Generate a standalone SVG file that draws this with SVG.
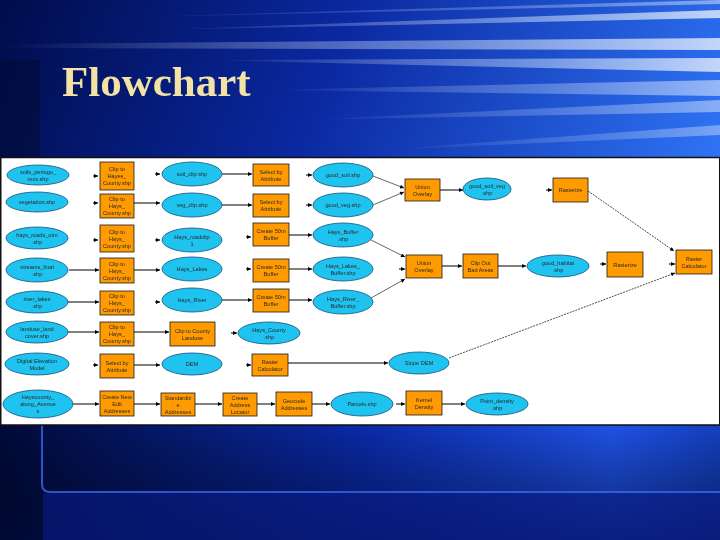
<svg xmlns="http://www.w3.org/2000/svg" width="720" height="540" viewBox="0 0 720 540">
<defs>
<linearGradient id="gTop" x1="0" y1="0" x2="1" y2="0.3">
<stop offset="0" stop-color="#000c4a"/>
<stop offset="0.45" stop-color="#0a28a0"/>
<stop offset="1" stop-color="#2f74f5"/>
</linearGradient>
<linearGradient id="gBot" x1="0" y1="0" x2="1" y2="0">
<stop offset="0" stop-color="#000a3a"/>
<stop offset="0.5" stop-color="#0a2aa8"/>
<stop offset="0.85" stop-color="#1f52e6"/>
<stop offset="1" stop-color="#1440c0"/>
</linearGradient>
<linearGradient id="gBot2" x1="0" y1="0" x2="0" y2="1">
<stop offset="0" stop-color="#000" stop-opacity="0"/>
<stop offset="1" stop-color="#000830" stop-opacity="0.6"/>
</linearGradient>
<linearGradient id="streak" x1="0" y1="0" x2="1" y2="0">
<stop offset="0" stop-color="#ffffff" stop-opacity="0"/>
<stop offset="0.6" stop-color="#cfe4ff" stop-opacity="0.55"/>
<stop offset="1" stop-color="#ffffff" stop-opacity="0.9"/>
</linearGradient>
<marker id="ah" viewBox="0 0 10 10" refX="10" refY="5" markerWidth="5" markerHeight="4" markerUnits="userSpaceOnUse" orient="auto">
<path d="M0,0 L10,5 L0,10 z" fill="#000"/>
</marker>
<style>
.e{fill:#1ec3ef;stroke:#1b4f7a;stroke-width:0.8}
.r{fill:#ff9a00;stroke:#1a1a1a;stroke-width:0.8}
.t{font-family:"Liberation Sans",Arial,sans-serif;font-size:5.6px;fill:#2a2a2a;text-anchor:middle}
.c{stroke:#000;stroke-width:1;fill:none;marker-end:url(#ah)}
.s{stroke:#000;stroke-width:0.6;fill:none;marker-end:url(#ah)}
.d{stroke:#000;stroke-width:0.7;fill:none;stroke-dasharray:2 1;marker-end:url(#ah)}
</style>
</defs>

<!-- background -->
<rect x="0" y="0" width="720" height="540" fill="url(#gTop)"/>
<rect x="0" y="425" width="720" height="115" fill="url(#gBot)"/>
<rect x="0" y="425" width="720" height="115" fill="url(#gBot2)"/>
<g opacity="0.8">
<polygon points="0,44 720,38 720,50 0,48" fill="url(#streak)"/>
<polygon points="150,30 720,10 720,18" fill="url(#streak)"/>
<polygon points="200,60 720,58 720,72" fill="url(#streak)"/>
<polygon points="260,90 720,80 720,96" fill="url(#streak)" opacity="0.7"/>
<polygon points="300,120 720,100 720,112" fill="url(#streak)" opacity="0.6"/>
<polygon points="380,150 720,125 720,135" fill="url(#streak)" opacity="0.5"/>
<polygon points="100,18 720,0 720,4" fill="url(#streak)" opacity="0.6"/>
</g>
<rect x="0" y="60" width="40" height="97" fill="#000a30" opacity="0.5"/>
<path d="M42,425 L42,484 Q42,492 50,492 L720,492" fill="none" stroke="#3a66e8" stroke-width="2" opacity="0.8"/>
<rect x="43" y="493" width="677" height="47" fill="#0a1c88" opacity="0.6"/>

<text x="62" y="96" font-family="'Liberation Serif','Times New Roman',serif" font-weight="bold" font-size="43" fill="#f2e3a4">Flowchart</text>

<!-- white panel -->
<rect x="0.75" y="157.5" width="719" height="267.5" fill="#ffffff" stroke="#111" stroke-width="1.5"/>

<!-- connectors -->
<g id="connectors">
<line class="c" x1="93" y1="176" x2="98" y2="176"/>
<line class="c" x1="93" y1="203" x2="98" y2="203"/>
<line class="c" x1="93" y1="240" x2="98" y2="240"/>
<line class="c" x1="93" y1="365" x2="98" y2="365"/>
<line class="c" x1="155" y1="174" x2="160" y2="174"/>
<line class="c" x1="155" y1="240" x2="160" y2="240"/>
<line class="c" x1="155" y1="302" x2="160" y2="302"/>
<line class="c" x1="246" y1="237" x2="251" y2="237"/>
<line class="c" x1="246" y1="269" x2="251" y2="269"/>
<line class="c" x1="246" y1="365" x2="251" y2="365"/>
<line class="c" x1="306" y1="175" x2="312" y2="175"/>
<line class="c" x1="306" y1="205" x2="312" y2="205"/>
<line class="c" x1="399" y1="269" x2="405" y2="269"/>
<line class="c" x1="546" y1="190" x2="552" y2="190"/>
<line class="c" x1="600" y1="264" x2="606" y2="264"/>
<line class="c" x1="669" y1="264" x2="675" y2="264"/>
<line class="c" x1="231" y1="333" x2="237" y2="333"/>
<line class="c" x1="396" y1="404" x2="405" y2="404"/>

<line class="c" x1="134" y1="203" x2="160" y2="203"/>
<line class="c" x1="222" y1="174" x2="252" y2="174"/>
<line class="c" x1="222" y1="205" x2="252" y2="205"/>
<line class="c" x1="289" y1="235" x2="312" y2="235"/>
<line class="c" x1="69" y1="270" x2="99" y2="270"/>
<line class="c" x1="134" y1="270" x2="160" y2="270"/>
<line class="c" x1="289" y1="269" x2="312" y2="269"/>
<line class="c" x1="68" y1="302" x2="99" y2="302"/>
<line class="c" x1="222" y1="300" x2="252" y2="300"/>
<line class="c" x1="289" y1="300" x2="312" y2="300"/>
<line class="c" x1="68" y1="332" x2="99" y2="332"/>
<line class="c" x1="134" y1="332" x2="169" y2="332"/>
<line class="c" x1="134" y1="365" x2="160" y2="365"/>
<line class="c" x1="288" y1="363" x2="388" y2="363"/>
<line class="c" x1="73" y1="404" x2="99" y2="404"/>
<line class="c" x1="134" y1="404" x2="160" y2="404"/>
<line class="c" x1="195" y1="404" x2="222" y2="404"/>
<line class="c" x1="257" y1="404" x2="275" y2="404"/>
<line class="c" x1="312" y1="404" x2="330" y2="404"/>
<line class="c" x1="442" y1="404" x2="465" y2="404"/>
<line class="c" x1="440" y1="190" x2="463" y2="190"/>
<line class="c" x1="442" y1="266" x2="462" y2="266"/>
<line class="c" x1="498" y1="266" x2="526" y2="266"/>

<line class="s" x1="373" y1="176" x2="404" y2="188"/>
<line class="s" x1="373" y1="205" x2="404" y2="192"/>
<line class="s" x1="371" y1="240" x2="405" y2="257"/>
<line class="s" x1="371" y1="298" x2="405" y2="279"/>
<line class="d" x1="588" y1="191" x2="674" y2="251"/>
<line class="d" x1="449" y1="358" x2="675" y2="273"/>
</g>

<!-- column 1 -->
<g id="A1"><ellipse class="e" cx="38" cy="175" rx="31" ry="10"/><text class="t"><tspan x="38" y="173.5">soils_pertsgo_</tspan><tspan x="38" y="180.5">nrcs.shp</tspan></text></g>
<g id="A2"><ellipse class="e" cx="37" cy="202" rx="31" ry="10"/><text class="t" x="37" y="204">vegetation.shp</text></g>
<g id="A3"><ellipse class="e" cx="37" cy="238" rx="31" ry="11"/><text class="t"><tspan x="37" y="236.5">hays_roads_utm</tspan><tspan x="37" y="243.5">.shp</tspan></text></g>
<g id="A4"><ellipse class="e" cx="37" cy="270" rx="31" ry="12"/><text class="t"><tspan x="37" y="268.5">streams_final</tspan><tspan x="37" y="275.5">.shp</tspan></text></g>
<g id="A5"><ellipse class="e" cx="37" cy="302" rx="31" ry="11"/><text class="t"><tspan x="37" y="300.5">river_lakes</tspan><tspan x="37" y="307.5">.shp</tspan></text></g>
<g id="A6"><ellipse class="e" cx="37" cy="332" rx="31" ry="11"/><text class="t"><tspan x="37" y="330.5">landuse_land</tspan><tspan x="37" y="337.5">cover.shp</tspan></text></g>
<g id="A7"><ellipse class="e" cx="37" cy="364" rx="32" ry="11"/><text class="t"><tspan x="37" y="362.5">Digital Elevation</tspan><tspan x="37" y="369.5">Model</tspan></text></g>
<g id="A8"><ellipse class="e" cx="38" cy="404" rx="35" ry="14"/><text class="t"><tspan x="38" y="399">Hayscounty_</tspan><tspan x="38" y="406">along_Avenue</tspan><tspan x="38" y="413">s</tspan></text></g>

<!-- column 2 -->
<g id="B1"><rect class="r" x="100" y="162" width="34" height="28"/><text class="t"><tspan x="117" y="171">Clip to</tspan><tspan x="117" y="178">Hayes_</tspan><tspan x="117" y="185">County.shp</tspan></text></g>
<g id="B2"><rect class="r" x="100" y="194" width="34" height="24"/><text class="t"><tspan x="117" y="201">Clip to</tspan><tspan x="117" y="208">Hays_</tspan><tspan x="117" y="215">County.shp</tspan></text></g>
<g id="B3"><rect class="r" x="100" y="225" width="34" height="27"/><text class="t"><tspan x="117" y="233.5">Clip to</tspan><tspan x="117" y="240.5">Hays_</tspan><tspan x="117" y="247.5">County.shp</tspan></text></g>
<g id="B4"><rect class="r" x="100" y="258" width="34" height="25"/><text class="t"><tspan x="117" y="265.5">Clip to</tspan><tspan x="117" y="272.5">Hays_</tspan><tspan x="117" y="279.5">County.shp</tspan></text></g>
<g id="B5"><rect class="r" x="100" y="291" width="34" height="24"/><text class="t"><tspan x="117" y="298">Clip to</tspan><tspan x="117" y="305">Hays_</tspan><tspan x="117" y="312">County.shp</tspan></text></g>
<g id="B6"><rect class="r" x="100" y="322" width="34" height="24"/><text class="t"><tspan x="117" y="329">Clip to</tspan><tspan x="117" y="336">Hays_</tspan><tspan x="117" y="343">County.shp</tspan></text></g>
<g id="B7"><rect class="r" x="100" y="354" width="34" height="24"/><text class="t"><tspan x="117" y="364.5">Select by</tspan><tspan x="117" y="371.5">Attribute</tspan></text></g>
<g id="B8"><rect class="r" x="100" y="391" width="34" height="25"/><text class="t"><tspan x="117" y="398.5">Create New</tspan><tspan x="117" y="405.5">Edit</tspan><tspan x="117" y="412.5">Addresses</tspan></text></g>

<!-- column 3 -->
<g id="C1"><ellipse class="e" cx="192" cy="174" rx="30" ry="12"/><text class="t" x="192" y="176">soil_clip.shp</text></g>
<g id="C2"><ellipse class="e" cx="192" cy="205" rx="30" ry="12"/><text class="t" x="192" y="207">veg_clip.shp</text></g>
<g id="C3"><ellipse class="e" cx="192" cy="240" rx="30" ry="12"/><text class="t"><tspan x="192" y="238.5">Hays_roadclip</tspan><tspan x="192" y="245.5">1</tspan></text></g>
<g id="C4"><ellipse class="e" cx="192" cy="269" rx="30" ry="12"/><text class="t" x="192" y="271">Hays_Lakes</text></g>
<g id="C5"><ellipse class="e" cx="192" cy="300" rx="30" ry="12"/><text class="t" x="192" y="302">Hays_River</text></g>
<g id="C6"><rect class="r" x="170" y="322" width="45" height="24"/><text class="t"><tspan x="192.5" y="332.5">Clip to County</tspan><tspan x="192.5" y="339.5">Landuse</tspan></text></g>
<g id="C7"><ellipse class="e" cx="192" cy="364" rx="30" ry="11"/><text class="t" x="192" y="366">DEM</text></g>
<g id="C8"><rect class="r" x="161" y="393" width="34" height="23"/><text class="t"><tspan x="178" y="399.5">Standardiz</tspan><tspan x="178" y="406.5">e</tspan><tspan x="178" y="413.5">Addresses</tspan></text></g>

<!-- column 4 -->
<g id="D1"><rect class="r" x="253" y="164" width="36" height="22"/><text class="t"><tspan x="271" y="173.5">Select by</tspan><tspan x="271" y="180.5">Attribute</tspan></text></g>
<g id="D2"><rect class="r" x="253" y="194" width="36" height="23"/><text class="t"><tspan x="271" y="204">Select by</tspan><tspan x="271" y="211">Attribute</tspan></text></g>
<g id="D3"><rect class="r" x="253" y="223" width="36" height="23"/><text class="t"><tspan x="271" y="233">Create 50m</tspan><tspan x="271" y="240">Buffer</tspan></text></g>
<g id="D4"><rect class="r" x="253" y="259" width="36" height="23"/><text class="t"><tspan x="271" y="269">Create 50m</tspan><tspan x="271" y="276">Buffer</tspan></text></g>
<g id="D5"><rect class="r" x="253" y="289" width="36" height="23"/><text class="t"><tspan x="271" y="299">Create 50m</tspan><tspan x="271" y="306">Buffer</tspan></text></g>
<g id="E6"><ellipse class="e" cx="269" cy="333" rx="31" ry="11"/><text class="t"><tspan x="269" y="331.5">Hays_County</tspan><tspan x="269" y="338.5">.shp</tspan></text></g>
<g id="D7"><rect class="r" x="252" y="354" width="36" height="22"/><text class="t"><tspan x="270" y="363.5">Raster</tspan><tspan x="270" y="370.5">Calculator</tspan></text></g>
<g id="D8"><rect class="r" x="223" y="393" width="34" height="23"/><text class="t"><tspan x="240" y="399.5">Create</tspan><tspan x="240" y="406.5">Address</tspan><tspan x="240" y="413.5">Locator</tspan></text></g>

<!-- column 5 -->
<g id="E1"><ellipse class="e" cx="343" cy="175" rx="30" ry="12"/><text class="t" x="343" y="177">good_soil.shp</text></g>
<g id="E2"><ellipse class="e" cx="343" cy="205" rx="30" ry="12"/><text class="t" x="343" y="207">good_veg.shp</text></g>
<g id="E3"><ellipse class="e" cx="343" cy="235" rx="30" ry="12"/><text class="t"><tspan x="343" y="233.5">Hays_Buffer</tspan><tspan x="343" y="240.5">.shp</tspan></text></g>
<g id="E4"><ellipse class="e" cx="343" cy="269" rx="30" ry="12"/><text class="t"><tspan x="343" y="267.5">Hays_Lakes_</tspan><tspan x="343" y="274.5">Buffer.shp</tspan></text></g>
<g id="E5"><ellipse class="e" cx="343" cy="302" rx="30" ry="12"/><text class="t"><tspan x="343" y="300.5">Hays_River_</tspan><tspan x="343" y="307.5">Buffer.shp</tspan></text></g>
<g id="E8"><rect class="r" x="276" y="392" width="36" height="24"/><text class="t"><tspan x="294" y="402.5">Geocode</tspan><tspan x="294" y="409.5">Addresses</tspan></text></g>
<g id="F8"><ellipse class="e" cx="362" cy="404" rx="31" ry="12"/><text class="t" x="362" y="406">Parcels.shp</text></g>

<!-- column 6+ -->
<g id="U1"><rect class="r" x="405" y="179" width="35" height="22"/><text class="t"><tspan x="422.5" y="188.5">Union</tspan><tspan x="422.5" y="195.5">Overlay</tspan></text></g>
<g id="U2"><rect class="r" x="406" y="255" width="36" height="23"/><text class="t"><tspan x="424" y="265">Union</tspan><tspan x="424" y="272">Overlay</tspan></text></g>
<g id="SD"><ellipse class="e" cx="419" cy="363" rx="30" ry="11"/><text class="t" x="419" y="365">Slope DEM</text></g>
<g id="KD"><rect class="r" x="406" y="391" width="36" height="24"/><text class="t"><tspan x="424" y="401.5">Kernel</tspan><tspan x="424" y="408.5">Density</tspan></text></g>
<g id="G1"><ellipse class="e" cx="487" cy="189" rx="24" ry="11"/><text class="t"><tspan x="487" y="187.5">good_soil_veg</tspan><tspan x="487" y="194.5">.shp</tspan></text></g>
<g id="K"><rect class="r" x="463" y="254" width="35" height="24"/><text class="t"><tspan x="480.5" y="264.5">Clip Out</tspan><tspan x="480.5" y="271.5">Bad Areas</tspan></text></g>
<g id="G3"><ellipse class="e" cx="497" cy="404" rx="31" ry="11"/><text class="t"><tspan x="497" y="402.5">Point_density</tspan><tspan x="497" y="409.5">.shp</tspan></text></g>
<g id="R1"><rect class="r" x="553" y="178" width="35" height="24"/><text class="t" x="570.5" y="192">Rasterize</text></g>
<g id="G2"><ellipse class="e" cx="558" cy="266" rx="31" ry="11"/><text class="t"><tspan x="558" y="264.5">good_habitat</tspan><tspan x="558" y="271.5">.shp</tspan></text></g>
<g id="R2"><rect class="r" x="607" y="252" width="36" height="25"/><text class="t" x="625" y="266.5">Rasterize</text></g>
<g id="RC"><rect class="r" x="676" y="250" width="36" height="24"/><text class="t"><tspan x="694" y="260.5">Raster</tspan><tspan x="694" y="267.5">Calculator</tspan></text></g>
</svg>
